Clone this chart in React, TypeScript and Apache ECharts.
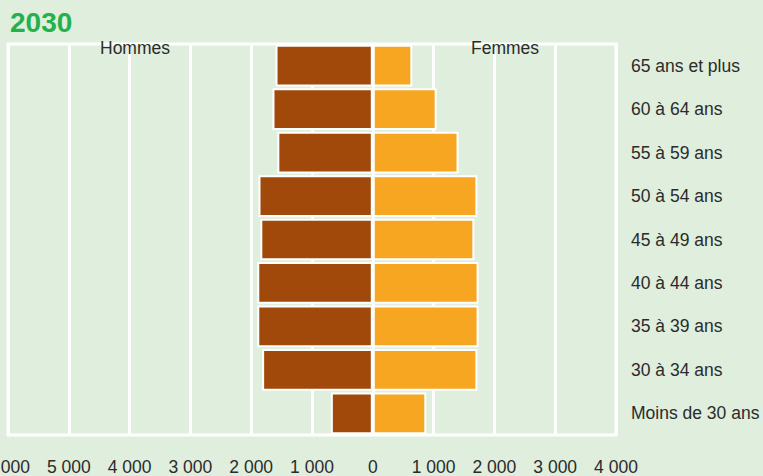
import React, { useEffect, useRef } from "react";
import * as echarts from "echarts";

const categories = [
  "Moins de 30 ans",
  "30 à 34 ans",
  "35 à 39 ans",
  "40 à 44 ans",
  "45 à 49 ans",
  "50 à 54 ans",
  "55 à 59 ans",
  "60 à 64 ans",
  "65 ans et plus",
];
const hommes = [690, 1820, 1900, 1900, 1850, 1880, 1570, 1650, 1600];
const femmes = [880, 1720, 1740, 1740, 1670, 1720, 1410, 1050, 650];
const title = "2030";
const leftLabel = "Hommes";
const rightLabel = "Femmes";

const FONT = "'Liberation Sans', Arial, sans-serif";
const FS = 17.5;

export default function App() {
  const ref = useRef<HTMLDivElement>(null);
  useEffect(() => {
    if (!ref.current) return;
    const chart = echarts.init(ref.current, null, { renderer: "svg" });
    chart.setOption({
      animation: false,
      backgroundColor: "#dfeedd",
      title: {
        text: title,
        left: 10,
        top: 8,
        padding: 0,
        textStyle: { color: "#22b14c", fontSize: 28, fontWeight: "bold", fontFamily: FONT },
      },
      graphic: [
        { type: "text", z: 100, left: 100, top: 39, style: { text: leftLabel, fontSize: FS, fontFamily: FONT, fill: "#2b2b2b" } },
        { type: "text", z: 100, left: 471, top: 39, style: { text: rightLabel, fontSize: FS, fontFamily: FONT, fill: "#2b2b2b" } },
      ],
      grid: {
        left: 8,
        right: 147,
        top: 44,
        bottom: 41,
        show: true,
        borderColor: "#ffffff",
        borderWidth: 3,
        backgroundColor: "transparent",
        containLabel: false,
        outerBoundsMode: "none",
      },
      xAxis: {
        type: "value",
        min: -6000,
        max: 4000,
        interval: 1000,
        axisLine: { show: false },
        axisTick: { show: false },
        splitLine: { show: true, lineStyle: { color: "#ffffff", width: 3 } },
        axisLabel: {
          margin: 23,
          fontSize: FS,
          fontFamily: FONT,
          color: "#2b2b2b",
          formatter: (v: number) => {
            const a = Math.abs(v);
            if (a === 0) return "0";
            return Math.floor(a / 1000) + " " + String(a % 1000).padStart(3, "0");
          },
        },
      },
      yAxis: {
        type: "category",
        data: categories,
        position: "right",
        axisLine: { show: false },
        axisTick: { show: false },
        splitLine: { show: false },
        axisLabel: {
          margin: 15,
          align: "left",
          fontSize: FS,
          fontFamily: FONT,
          color: "#2b2b2b",
        },
      },
      series: [
        {
          name: leftLabel,
          type: "bar",
          stack: "p",
          data: hommes.map((v) => -v),
          barCategoryGap: "4%",
          itemStyle: { color: "#a0490b", borderColor: "#ffffff", borderWidth: 2 },
        },
        {
          name: rightLabel,
          type: "bar",
          stack: "p",
          data: femmes,
          barCategoryGap: "4%",
          itemStyle: { color: "#f6a620", borderColor: "#ffffff", borderWidth: 2 },
        },
      ],
    });
    return () => chart.dispose();
  }, []);
  return <div ref={ref} style={{ position: "fixed", left: 0, top: 0, width: 763, height: 476 }} />;
}
